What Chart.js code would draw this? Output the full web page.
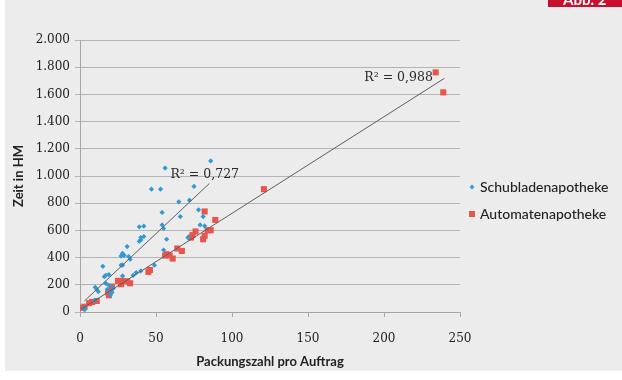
<!DOCTYPE html>
<html>
<head>
<meta charset="utf-8">
<script src="https://cdn.jsdelivr.net/npm/chart.js@4.4.0/dist/chart.umd.min.js"></script>
<style>
  html, body { margin: 0; padding: 0; background: #ffffff; }
  #wrap { width: 622px; height: 380px; }
</style>
</head>
<body>
<div id="wrap"><canvas id="myChart" width="622" height="380"></canvas></div>
<script>
// Werte
const schubX = [86, 56, 75, 47, 53, 72, 65, 54, 78, 81, 66, 54, 55, 79, 82, 42, 39, 40, 42, 39, 40, 57, 71, 31, 28, 29, 27, 32, 33, 27, 28, 55, 15, 17, 19, 16, 28, 49, 40, 35, 37, 10, 11, 12, 17, 19, 22, 18, 20, 21, 10, 3, 3];
const schubY = [1111, 1058, 923, 903, 903, 822, 810, 732, 751, 702, 702, 640, 614, 640, 633, 631, 626, 547, 555, 520, 530, 535, 547, 481, 432, 417, 412, 408, 388, 344, 344, 456, 336, 270, 275, 260, 265, 344, 302, 270, 290, 182, 167, 150, 211, 196, 177, 167, 125, 145, 85, 17, 30];

const autoX = [82, 89, 76, 74, 82, 86, 84, 81, 73, 67, 64, 57, 59, 61, 56, 46, 45, 33, 31, 28, 25, 27, 21, 20, 19, 18.5, 11, 8, 6, 3, 1.5, 121, 234, 239];
const autoY = [739, 677, 592, 565, 560, 601, 601, 535, 547, 449, 467, 425, 415, 393, 415, 309, 295, 211, 226, 228, 229, 204, 187, 153, 123, 143, 81, 74, 65, 39, 31, 903, 1762, 1615];

// Trendlinien (Endpunkte)
const trendSchubX = [2.9, 85.2];
const trendSchubY = [81, 946];
const trendAutoX = [0.7, 239.7];
const trendAutoY = [20, 1718];

const xTicks = [0, 50, 100, 150, 200, 250];
const yTicks = [0, 200, 400, 600, 800, 1000, 1200, 1400, 1600, 1800, 2000];

const serienNamen = ['Schubladenapotheke', 'Automatenapotheke'];
const r2Texte = ['R² = 0,727', 'R² = 0,988'];

const blau = '#2f9ad6';
const rot = '#e8554c';

function toPoints(xs, ys) {
	return xs.map((x, i) => ({ x: x, y: ys[i] }));
}

// Hintergrund, Abb.-Kasten, R²-Texte und Legende
const extras = {
	id: 'extras',
	beforeDraw(chart) {
		const ctx = chart.ctx;
		ctx.save();
		ctx.fillStyle = '#ffffff';
		ctx.fillRect(0, 0, 622, 380);
		ctx.fillStyle = '#ececec';
		ctx.fillRect(5, 0, 617, 371);
		// roter Kasten oben rechts
		ctx.fillStyle = '#c8102e';
		ctx.fillRect(548, 0, 74, 7);
		ctx.beginPath();
		ctx.rect(548, 0, 74, 7);
		ctx.clip();
		ctx.fillStyle = '#ffffff';
		ctx.font = 'bold 15px Lato';
		ctx.textAlign = 'left';
		ctx.textBaseline = 'alphabetic';
		ctx.fillText('Abb. 2', 563, 5);
		ctx.restore();
	},
	afterDraw(chart) {
		const ctx = chart.ctx;
		const xs = chart.scales.x, ys = chart.scales.y;
		ctx.save();
		ctx.fillStyle = '#2a2a2a';
		ctx.font = '12.5px "DejaVu Serif"';
		ctx.textAlign = 'left';
		ctx.textBaseline = 'middle';
		// Bestimmtheitsmaß
		ctx.fillText(r2Texte[0], xs.getPixelForValue(59.5), ys.getPixelForValue(1010));
		ctx.fillText(r2Texte[1], xs.getPixelForValue(187), ys.getPixelForValue(1725));

		// Legende
		ctx.font = '500 14px Lato';
		ctx.fillStyle = '#222222';
		const lx = 472, ly = [187, 214];
		ctx.fillText(serienNamen[0], 480, ly[0]);
		ctx.fillText(serienNamen[1], 480, ly[1]);
		ctx.fillStyle = blau;
		ctx.beginPath();
		ctx.moveTo(lx, ly[0] - 2.5);
		ctx.lineTo(lx + 2.5, ly[0]);
		ctx.lineTo(lx, ly[0] + 2.5);
		ctx.lineTo(lx - 2.5, ly[0]);
		ctx.closePath();
		ctx.fill();
		ctx.fillStyle = rot;
		ctx.fillRect(lx - 3, ly[1] - 3, 6, 6);
		ctx.restore();
	}
};

const ctx = document.getElementById('myChart').getContext('2d');
new Chart(ctx, {
	type: 'scatter',
	data: {
		datasets: [
			{
				label: serienNamen[0],
				data: toPoints(schubX, schubY),
				backgroundColor: blau,
				borderColor: blau,
				pointStyle: 'rectRot',
				pointRadius: 2.6,
				borderWidth: 0,
				order: 2
			},
			{
				label: serienNamen[1],
				data: toPoints(autoX, autoY),
				backgroundColor: rot,
				borderColor: rot,
				pointStyle: 'rect',
				pointRadius: 4.3,
				borderWidth: 0,
				order: 3
			},
			{
				type: 'line',
				label: 'Trend Schublade',
				data: toPoints(trendSchubX, trendSchubY),
				borderColor: '#5e5e5e',
				borderWidth: 1,
				pointRadius: 0,
				fill: false,
				order: 1
			},
			{
				type: 'line',
				label: 'Trend Automat',
				data: toPoints(trendAutoX, trendAutoY),
				borderColor: '#5e5e5e',
				borderWidth: 1,
				pointRadius: 0,
				fill: false,
				order: 1
			}
		]
	},
	options: {
		responsive: false,
		animation: false,
		layout: { padding: { left: 5, top: 40, right: 162, bottom: 0 } },
		plugins: {
			legend: { display: false },
			tooltip: { enabled: false }
		},
		scales: {
			x: {
				type: 'linear',
				min: 0,
				max: 250,
				afterBuildTicks: s => { s.ticks = xTicks.map(v => ({ value: v })); },
				afterFit: s => { s.height = 68; },
				border: { color: '#a6a6a6', width: 1 },
				grid: { drawOnChartArea: false, drawTicks: true, tickLength: 5, color: '#a6a6a6' },
				ticks: {
					color: '#222222',
					font: { family: 'DejaVu Serif', size: 12 },
					padding: 15,
					maxRotation: 0
				},
				title: {
					display: true,
					text: 'Packungszahl pro Auftrag',
					color: '#222222',
					font: { family: 'Lato', size: 13, weight: 'bold' },
					padding: { top: 4, bottom: 10 }
				}
			},
			y: {
				type: 'linear',
				min: 0,
				max: 2000,
				afterBuildTicks: s => { s.ticks = yTicks.map(v => ({ value: v })); },
				afterFit: s => { s.width = 75; },
				border: { color: '#a6a6a6', width: 1 },
				grid: { color: '#b4b4b4', tickLength: 5 },
				ticks: {
					color: '#222222',
					font: { family: 'DejaVu Serif', size: 12 },
					padding: 5,
					callback: v => v.toLocaleString('de-DE')
				},
				title: {
					display: true,
					text: 'Zeit in HM',
					color: '#222222',
					font: { family: 'Lato', size: 13, weight: 'bold' },
					padding: { top: 6, bottom: 4 }
				}
			}
		}
	},
	plugins: [extras]
});
</script>
</body>
</html>
